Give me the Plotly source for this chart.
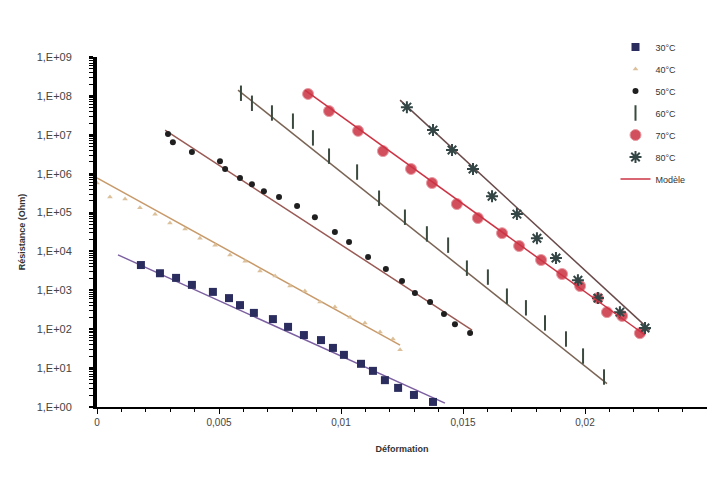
import plotly.graph_objects as go

# ---- data ----
x30 = [0.00180, 0.00258, 0.00324, 0.00389, 0.00475, 0.00541, 0.00586, 0.00643, 0.00721, 0.00783,
       0.00848, 0.00918, 0.00967, 0.01012, 0.01082, 0.01131, 0.01180, 0.01234, 0.01299, 0.01377]
y30 = [4470, 2750, 2090, 1380, 912, 631, 417, 263, 182, 115,
       70.8, 52.5, 33.1, 21.9, 12.9, 8.5, 4.9, 3.1, 2.04, 1.35]

x40 = [0.0, 0.00053, 0.00115, 0.00176, 0.00238, 0.00299, 0.00361, 0.00422, 0.00484, 0.00545, 0.00607,
       0.00668, 0.00730, 0.00791, 0.00852, 0.00914, 0.00975, 0.01037, 0.01098, 0.01160, 0.01213, 0.01242]
y40 = [575000, 251000, 224000, 132000, 91000, 53700, 38000, 21900, 14500, 8130, 5620,
       3160, 2340, 1290, 955, 501, 372, 204, 145, 85, 56, 29.5]

x50 = [0.00291, 0.00311, 0.00389, 0.00504, 0.00525, 0.00586, 0.00635, 0.00684, 0.00746, 0.00820, 0.00893,
       0.00975, 0.01033, 0.01111, 0.01184, 0.01250, 0.01303, 0.01365, 0.01422, 0.01467, 0.01529]
y50 = [1.05e7, 6.46e6, 3.63e6, 2.09e6, 1.32e6, 7.76e5, 5.37e5, 3.55e5, 2.51e5, 1.48e5, 7.59e4,
       3.16e4, 1.74e4, 7240, 3550, 1740, 851, 501, 245, 135, 79.4]

x60 = [0.00590, 0.00635, 0.00717, 0.00803, 0.00885, 0.00951, 0.01066, 0.01156, 0.01262, 0.01352,
       0.01439, 0.01516, 0.01602, 0.01680, 0.01758, 0.01836, 0.01922, 0.01992, 0.02078]
y60 = [1.17e8, 6.46e7, 3.63e7, 2.24e7, 8.32e6, 2.82e6, 1.10e6, 2.34e5, 7.59e4, 2.82e4,
       1.45e4, 3720, 2190, 708, 355, 145, 56, 20.4, 5.9]

x70 = [0.00865, 0.00951, 0.01070, 0.01172, 0.01287, 0.01373, 0.01475, 0.01561, 0.01660, 0.01730,
       0.01820, 0.01906, 0.01980, 0.02053, 0.02090, 0.02152, 0.02225]
y70 = [1.12e8, 4.07e7, 1.26e7, 3.80e6, 1.32e6, 5.75e5, 1.66e5, 7.24e4, 2.95e4, 1.38e4,
       6030, 2630, 1290, 631, 275, 219, 79]

x80 = [0.01270, 0.01377, 0.01455, 0.01541, 0.01619, 0.01721, 0.01803, 0.01881, 0.01971, 0.02053, 0.02143, 0.02246]
y80 = [5.13e7, 1.32e7, 4.07e6, 1.32e6, 2.63e5, 9.12e4, 2.19e4, 6760, 1820, 631, 275, 107]

# model (fitted exponential) lines: start / end of each
model_x = {"30": [0.00086, 0.01426], "40": [0.0, 0.01242], "50": [0.00279, 0.01537],
           "60": [0.00578, 0.02090], "70": [0.00852, 0.02246], "80": [0.01242, 0.02266]}
model_y = {"30": [8130, 1.26], "40": [776000, 39], "50": [1.32e7, 95],
           "60": [1.41e8, 4.0], "70": [1.41e8, 71], "80": [7.76e7, 95]}

y_tickvals = [1, 10, 100, 1e3, 1e4, 1e5, 1e6, 1e7, 1e8, 1e9]
y_ticktext = ["1,E+00", "1,E+01", "1,E+02", "1,E+03", "1,E+04", "1,E+05",
              "1,E+06", "1,E+07", "1,E+08", "1,E+09"]
x_tickvals = [0, 0.005, 0.01, 0.015, 0.02, 0.025]
x_ticktext = ["0", "0,005", "0,01", "0,015", "0,02", "0,025"]

# ---- styles ----
model_colors = {"30": "#7b5fa0", "40": "#c89a6a", "50": "#9a5a55",
                "60": "#7a6455", "70": "#cc3344", "80": "#6a4a4a"}

fig = go.Figure()

# model lines (not in legend, except the red one added last)
for k in ["30", "40", "50", "60", "80"]:
    fig.add_trace(go.Scatter(x=model_x[k], y=model_y[k], mode="lines",
                             line=dict(color=model_colors[k], width=1.5),
                             showlegend=False, hoverinfo="skip"))

fig.add_trace(go.Scatter(x=x30, y=y30, mode="markers", name="30°C", legendgroup="g30",
                         marker=dict(symbol="square", size=8, color="#2b2d5e")))
fig.add_trace(go.Scatter(x=x40, y=y40, mode="markers", name="40°C", legendgroup="g40",
                         marker=dict(symbol="triangle-up", size=5, color="#dcc09a")))
fig.add_trace(go.Scatter(x=x50, y=y50, mode="markers", name="50°C", legendgroup="g50",
                         marker=dict(symbol="circle", size=6, color="#1f1f1f")))
fig.add_trace(go.Scatter(x=x60, y=y60, mode="markers", name="60°C", legendgroup="g60",
                         marker=dict(symbol="line-ns", size=11, color="#3b4a3f",
                                     line=dict(width=2, color="#3b4a3f"))))
fig.add_trace(go.Scatter(x=x70, y=y70, mode="markers", name="70°C", legendgroup="g70",
                         marker=dict(symbol="circle", size=11, color="#d2505e",
                                     line=dict(width=1, color="#e89aa2"))))
fig.add_trace(go.Scatter(x=x80, y=y80, mode="markers", name="80°C", legendgroup="g80",
                         marker=dict(symbol="asterisk-open", size=10, color="#344545",
                                     line=dict(width=2, color="#344545"))))
fig.add_trace(go.Scatter(x=model_x["70"], y=model_y["70"], mode="lines", name="Modèle",
                         legendgroup="gm", line=dict(color=model_colors["70"], width=1.5)))

font_main = dict(family="Liberation Sans, Arial, sans-serif", size=10, color="#333333")

# the page body adds an 8px offset; figure sized so the plot area lands at x 97-707, y 57-407
fig.update_layout(
    width=707, height=480,
    margin=dict(l=89, r=8, t=49, b=81, autoexpand=False),
    paper_bgcolor="white", plot_bgcolor="white",
    font=font_main,
    showlegend=True,
    legend=dict(x=0.85, y=1.07, xanchor="left", yanchor="top",
                bgcolor="rgba(255,255,255,0)", font=dict(size=9, color="#333333"),
                itemwidth=30, tracegroupgap=3),
    xaxis=dict(range=[0, 0.025], tickvals=x_tickvals, ticktext=x_ticktext, automargin=False,
               showgrid=False, zeroline=False, showline=True, linecolor="black", linewidth=2,
               ticks="outside", ticklen=5, tickwidth=1, tickcolor="black",
               tickfont=dict(size=10, color="#444444"),
               minor=dict(dtick=0.001, ticks="outside", ticklen=3, tickcolor="black", showgrid=False),
               title=dict(text="<b>Déformation</b>", font=dict(size=9, color="#333333"), standoff=19)),
    yaxis=dict(type="log", range=[0, 9], tickvals=y_tickvals, ticktext=y_ticktext, automargin=False,
               showgrid=False, zeroline=False, showline=True, linecolor="black", linewidth=4,
               ticks="outside", ticklen=4, tickwidth=2, tickcolor="black",
               ticklabelstandoff=15, tickfont=dict(size=11, color="#444444"),
               minor=dict(ticks="outside", ticklen=4, tickwidth=1, tickcolor="black",
                          dtick="D1", showgrid=False),
               title=dict(text="<b>Résistance (Ohm)</b>", font=dict(size=9, color="#333333"), standoff=10)),
)

fig.write_html("out.html")
